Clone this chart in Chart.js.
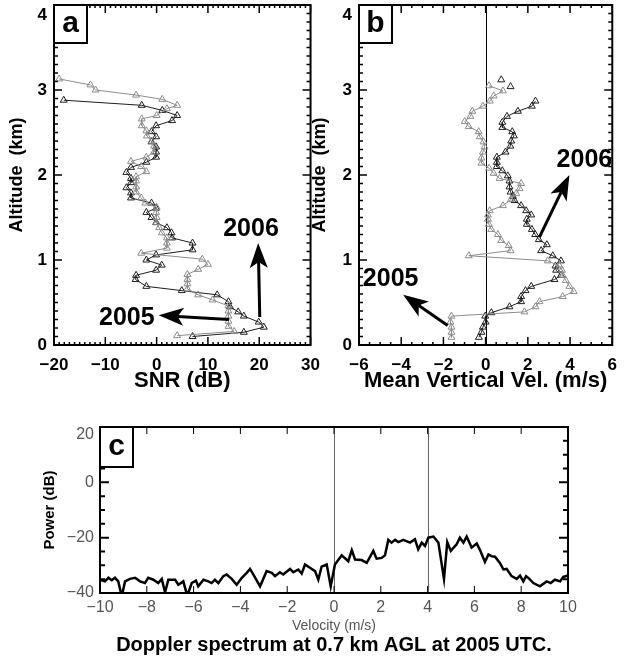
<!DOCTYPE html>
<html>
<head>
<meta charset="utf-8">
<script src="https://cdn.jsdelivr.net/npm/chart.js@4.4.0/dist/chart.umd.min.js"></script>
<style>
  body { margin: 0; background: #fff; width: 627px; height: 659px; overflow: hidden; position: relative; }
  canvas { position: absolute; }
  #chartA { left: 0; top: -20px; }
  #chartB { left: 300px; top: -20px; }
  #chartC { left: 0; top: 400px; }
</style>
</head>
<body>
<canvas id="chartA" width="330" height="420"></canvas>
<canvas id="chartB" width="327" height="420"></canvas>
<canvas id="chartC" width="627" height="259"></canvas>
<script>
// panel a: SNR profiles (dB) against altitude (km)
const alt2006a = [2.88, 2.82, 2.76, 2.70, 2.64, 2.58, 2.51, 2.45, 2.39, 2.33, 2.27, 2.21, 2.15, 2.09, 2.03, 1.96, 1.91, 1.85, 1.79, 1.73, 1.67, 1.61, 1.56, 1.50, 1.44, 1.38, 1.32, 1.26, 1.20, 1.12, 1.06, 1.00, 0.94, 0.88, 0.82, 0.77, 0.69, 0.64, 0.59, 0.51, 0.45, 0.39, 0.34, 0.27, 0.21, 0.15, 0.10];
const snr2006 = [-18.1, -2.9, 1.1, 4.0, 3.0, -0.1, -1.0, -0.1, -1.0, -0.1, -0.1, -0.1, -2.0, -5.0, -5.9, -5.0, -5.0, -5.9, -5.0, -5.0, -1.0, -0.1, -2.0, -1.0, -0.1, 2.0, 2.9, 3.0, 7.0, 7.0, -0.1, -2.0, 1.0, -0.1, -4.0, -4.1, -2.0, 4.9, 11.8, 14.0, 14.3, 15.9, 17.0, 19.9, 20.9, 17.0, 7.0];
const alt2005a = [3.13, 3.06, 3.00, 2.94, 2.89, 2.82, 2.78, 2.70, 2.66, 2.58, 2.52, 2.46, 2.40, 2.34, 2.27, 2.21, 2.16, 2.10, 2.04, 1.98, 1.93, 1.86, 1.80, 1.73, 1.67, 1.62, 1.56, 1.50, 1.44, 1.38, 1.32, 1.26, 1.20, 1.14, 1.08, 1.01, 0.95, 0.89, 0.83, 0.77, 0.72, 0.66, 0.59, 0.53, 0.46, 0.40, 0.34, 0.28, 0.22, 0.16, 0.11];
const snr2005 = [-19.0, -12.9, -11.9, -4.0, 1.1, 4.0, 2.0, 0.0, -2.9, -2.9, -2.0, -1.9, -1.0, -0.5, -0.5, -2.0, -5.0, -3.0, -2.0, -4.0, -4.0, -4.0, -4.0, -3.0, -2.2, 0.0, -0.1, 0.0, 0.0, 0.5, 1.0, 2.0, 2.0, 2.0, -3.0, 8.9, 10.0, 8.1, 6.0, 6.0, 6.0, 6.0, 8.1, 10.9, 14.0, 14.0, 14.0, 14.0, 14.0, 15.1, 4.0];

// panel b: mean vertical velocity (m/s) against altitude (km)
const alt2006b = [2.87, 2.81, 2.75, 2.69, 2.62, 2.56, 2.51, 2.46, 2.40, 2.34, 2.27, 2.21, 2.15, 2.10, 2.05, 1.99, 1.93, 1.86, 1.80, 1.75, 1.70, 1.64, 1.58, 1.53, 1.48, 1.42, 1.36, 1.30, 1.24, 1.18, 1.11, 1.05, 0.99, 0.93, 0.88, 0.82, 0.77, 0.69, 0.64, 0.57, 0.51, 0.45, 0.38, 0.34, 0.27, 0.21, 0.15, 0.09];
const vel2006 = [2.36, 2.19, 1.53, 1.01, 0.79, 0.79, 1.26, 1.34, 1.21, 1.17, 0.94, 0.53, 0.53, 0.53, 0.79, 1.05, 1.13, 1.13, 1.18, 1.29, 1.37, 1.68, 1.92, 2.16, 1.95, 1.95, 2.19, 2.35, 2.52, 2.90, 2.63, 3.18, 3.57, 3.31, 3.34, 3.57, 3.26, 2.16, 1.89, 1.68, 1.68, 1.13, 0.27, -0.02, 0.0, -0.13, -0.2, -0.32];
const altTop2006b = [3.12, 3.04];
const velTop2006 = [0.74, 1.18];
const alt2005b = [3.05, 2.99, 2.93, 2.87, 2.81, 2.75, 2.69, 2.63, 2.57, 2.51, 2.45, 2.39, 2.33, 2.27, 2.20, 2.14, 2.08, 2.02, 1.96, 1.90, 1.84, 1.78, 1.71, 1.64, 1.58, 1.53, 1.48, 1.42, 1.36, 1.30, 1.23, 1.17, 1.11, 1.05, 0.99, 0.93, 0.88, 0.82, 0.76, 0.69, 0.63, 0.57, 0.51, 0.45, 0.39, 0.34, 0.27, 0.21, 0.15, 0.09];
const vel2005 = [0.16, 0.82, 0.38, 0.2, -0.13, -0.63, -0.72, -0.99, -0.80, -0.33, -0.28, -0.1, -0.05, -0.13, -0.2, -0.2, 0.16, 0.38, 0.66, 1.68, 1.61, 1.45, 1.2, 0.82, 0.19, 0.11, 0.11, 0.15, 0.27, 0.58, 0.74, 1.09, 1.18, -0.80, 2.94, 3.5, 3.62, 3.65, 3.8, 3.97, 4.17, 3.65, 2.55, 2.36, 1.84, -1.62, -1.67, -1.62, -1.62, -1.62];

// panel c: Doppler spectrum
const specVel = [-10.00, -9.79, -9.64, -9.50, -9.36, -9.22, -9.07, -8.93, -8.72, -8.50,
  -8.29, -8.08, -7.94, -7.72, -7.51, -7.36, -7.22, -7.08, -6.79, -6.65,
  -6.44, -6.27, -6.08, -5.90, -5.80, -5.58, -5.37, -5.23, -5.09, -4.94,
  -4.73, -4.59, -4.37, -4.16, -3.94, -3.73, -3.59, -3.45, -3.16, -2.88,
  -2.66, -2.52, -2.31, -2.17, -1.88, -1.74, -1.53, -1.38, -1.24, -1.03,
  -0.81, -0.67, -0.53, -0.31, -0.14, 0.04, 0.33, 0.61, 0.76, 0.90,
  1.18, 1.40, 1.68, 1.82, 2.04, 2.18, 2.32, 2.46, 2.61, 2.75,
  2.96, 3.25, 3.46, 3.60, 3.75, 3.89, 4.03, 4.25, 4.46, 4.70,
  4.84, 4.99, 5.24, 5.38, 5.53, 5.67, 5.88, 6.10, 6.24, 6.45,
  6.60, 6.74, 6.88, 7.09, 7.24, 7.38, 7.59, 7.81, 7.95, 8.09,
  8.21, 8.35, 8.52, 8.80, 9.09, 9.26, 9.44, 9.66, 9.80, 10.00];
const specPower = [-35.2, -35.8, -34.5, -35.4, -34.5, -35.8, -41.2, -35.8, -34.9, -34.5,
  -35.8, -36.4, -34.5, -35.2, -36.4, -34.9, -39.8, -35.2, -35.2, -37.0,
  -35.8, -41.0, -36.4, -35.5, -37.6, -35.2, -35.8, -36.4, -35.2, -36.4,
  -33.9, -33.3, -34.9, -37.0, -34.5, -32.7, -31.3, -33.3, -37.6, -32.1,
  -32.7, -33.9, -32.5, -33.3, -31.3, -32.5, -31.5, -33.0, -29.7, -30.9,
  -32.1, -35.2, -30.5, -29.7, -37.6, -29.7, -26.4, -28.5, -24.5, -27.9,
  -28.1, -29.1, -24.8, -27.6, -27.3, -26.4, -20.8, -21.8, -20.8, -21.6,
  -20.8, -21.8, -20.6, -24.2, -21.8, -23.0, -20.0, -19.6, -21.8, -34.9,
  -21.6, -24.8, -22.4, -20.0, -21.8, -19.6, -23.6, -22.1, -24.5, -28.8,
  -26.1, -26.7, -26.9, -29.1, -31.5, -31.3, -33.9, -34.9, -33.7, -35.8,
  -33.9, -34.9, -36.4, -37.6, -35.8, -36.4, -35.2, -35.8, -34.2, -33.7];

const FONT = '"Liberation Sans", Arial, Helvetica, sans-serif';
const gray = '#8c8c8c';
const black = '#1e1e1e';

function minusSign(v) {
  return v < 0 ? '\u2212' + Math.abs(v) : String(v);
}

function toPoints(xs, ys) {
  return xs.map((v, i) => ({ x: v, y: ys[i] }));
}

function profile(xs, ys, color, line) {
  return {
    data: toPoints(xs, ys),
    showLine: line,
    borderColor: color,
    borderWidth: 1,
    pointStyle: 'triangle',
    pointRadius: 4,
    pointBorderWidth: 1,
    pointBorderColor: color,
    pointBackgroundColor: 'rgba(0,0,0,0)'
  };
}

function drawArrow(ctx, x0, y0, x1, y1) {
  const ang = Math.atan2(y1 - y0, x1 - x0);
  const c = Math.cos(ang), s = Math.sin(ang);
  const len = 25, half = 9, notch = 6;
  const bx = x1 - c * len, by = y1 - s * len;
  const nx = x1 - c * (len - notch), ny = y1 - s * (len - notch);
  ctx.lineWidth = 3;
  ctx.beginPath();
  ctx.moveTo(x0, y0);
  ctx.lineTo(nx, ny);
  ctx.stroke();
  ctx.beginPath();
  ctx.moveTo(x1, y1);
  ctx.lineTo(bx - s * half, by + c * half);
  ctx.lineTo(nx, ny);
  ctx.lineTo(bx + s * half, by - c * half);
  ctx.closePath();
  ctx.fill();
}

function tickList(scale, minor, major) {
  const out = [];
  const n = Math.round((scale.max - scale.min) / minor);
  for (let i = 0; i <= n; i++) {
    const v = scale.min + i * minor;
    const isMajor = Math.abs(v / major - Math.round(v / major)) < 1e-6;
    out.push({ px: scale.getPixelForValue(v), major: isMajor });
  }
  return out;
}

// IDL style frame: inward ticks on all four sides, reference lines, tag, arrows
const idlFrame = {
  id: 'idlFrame',
  beforeDatasetsDraw(chart, args, o) {
    const { ctx, chartArea: a, scales: { x } } = chart;
    ctx.save();
    ctx.strokeStyle = o.refColor || '#000';
    ctx.lineWidth = 1;
    (o.refLines || []).forEach(v => {
      const px = Math.round(x.getPixelForValue(v)) + 0.5;
      ctx.beginPath();
      ctx.moveTo(px, a.top);
      ctx.lineTo(px, a.bottom);
      ctx.stroke();
    });
    ctx.restore();
  },
  afterDatasetsDraw(chart, args, o) {
    const { ctx, chartArea: a, scales: { x, y } } = chart;
    ctx.save();
    ctx.strokeStyle = '#000';
    ctx.fillStyle = '#000';

    ctx.lineWidth = o.xTickWidth;
    tickList(x, o.xMinor, o.xMajor).forEach(t => {
      const len = t.major ? o.xMajorLen : o.xMinorLen;
      ctx.beginPath();
      ctx.moveTo(t.px, a.bottom); ctx.lineTo(t.px, a.bottom - len);
      ctx.moveTo(t.px, a.top); ctx.lineTo(t.px, a.top + len);
      ctx.stroke();
    });
    ctx.lineWidth = o.yTickWidth;
    tickList(y, o.yMinor, o.yMajor).forEach(t => {
      const len = t.major ? o.yMajorLen : o.yMinorLen;
      ctx.beginPath();
      ctx.moveTo(a.left, t.px); ctx.lineTo(a.left + len, t.px);
      ctx.moveTo(a.right, t.px); ctx.lineTo(a.right - len, t.px);
      ctx.stroke();
    });

    ctx.lineWidth = 2;
    ctx.strokeRect(a.left, a.top, a.width, a.height);

    // panel letter
    const tg = o.tag;
    ctx.fillStyle = '#fff';
    ctx.fillRect(a.left, a.top, tg.w, tg.h);
    ctx.strokeRect(a.left, a.top, tg.w, tg.h);
    ctx.fillStyle = '#000';
    ctx.font = 'bold 30px ' + FONT;
    ctx.textAlign = 'center';
    ctx.textBaseline = 'middle';
    ctx.fillText(tg.text, a.left + tg.w / 2, a.top + tg.h / 2);

    // top tick label, pushed inside the page like the original
    const tl = o.topLabel;
    ctx.font = tl.font;
    ctx.fillStyle = tl.color;
    ctx.textAlign = 'right';
    ctx.fillText(tl.text, a.left - tl.pad, a.top + tl.dy);

    // arrows and their labels
    ctx.fillStyle = '#000';
    ctx.strokeStyle = '#000';
    (o.arrows || []).forEach(ar => {
      drawArrow(ctx, x.getPixelForValue(ar.from[0]), y.getPixelForValue(ar.from[1]),
        x.getPixelForValue(ar.to[0]), y.getPixelForValue(ar.to[1]));
      ctx.font = 'bold 25px ' + FONT;
      ctx.textAlign = 'center';
      ctx.fillText(ar.text, x.getPixelForValue(ar.at[0]), y.getPixelForValue(ar.at[1]));
    });
    ctx.restore();
  }
};

function xAxis(min, max, step, title, height) {
  return {
    type: 'linear', min: min, max: max,
    grid: { display: false, drawTicks: false },
    border: { display: false },
    ticks: { stepSize: step, padding: 10, color: '#000', maxRotation: 0, autoSkip: false,
      font: { family: FONT, size: 17, weight: 'bold' }, callback: v => minusSign(v) },
    title: { display: true, text: title, color: '#000',
      font: { family: FONT, size: 22, weight: 'bold', lineHeight: 1 },
      padding: { top: 0, bottom: 8 } },
    afterFit: s => { s.height = height; }
  };
}

function altAxis(width, titlePad) {
  return {
    type: 'linear', min: 0, max: 4,
    grid: { display: false, drawTicks: false },
    border: { display: false },
    ticks: { stepSize: 1, padding: 7, color: '#000', autoSkip: false,
      font: { family: FONT, size: 17, weight: 'bold' }, callback: v => (v === 4 ? '' : minusSign(v)) },
    title: { display: true, text: 'Altitude  (km)', color: '#000',
      font: { family: FONT, size: 18, weight: 'bold', lineHeight: 1 },
      padding: { top: titlePad, bottom: 0 } },
    afterFit: s => { s.width = width; }
  };
}

const profileFrame = {
  xTickWidth: 1.5, yTickWidth: 1.5,
  yMinor: 0.1, yMajor: 1, yMajorLen: 8, yMinorLen: 4,
  xMajorLen: 8, xMinorLen: 3,
  topLabel: { text: '4', dy: 10, pad: 7, font: 'bold 17px ' + FONT, color: '#000' }
};

new Chart(document.getElementById('chartA'), {
  type: 'scatter',
  data: {
    datasets: [
      profile(snr2005, alt2005a, gray, true),
      profile(snr2006, alt2006a, black, true)
    ]
  },
  options: {
    responsive: false,
    animation: false,
    devicePixelRatio: 1,
    layout: { padding: { left: 0, top: 25, right: 18, bottom: 0 } },
    scales: {
      x: xAxis(-20, 30, 10, 'SNR (dB)', 55),
      y: altAxis(54, 8)
    },
    plugins: {
      legend: { display: false },
      tooltip: { enabled: false },
      idlFrame: Object.assign({}, profileFrame, {
        xMinor: 1, xMajor: 10,
        tag: { text: 'a', w: 33, h: 38 },
        arrows: [
          { from: [20.1, 0.33], to: [19.8, 1.20], text: '2006', at: [18.4, 1.36] },
          { from: [14.1, 0.30], to: [0.4, 0.35], text: '2005', at: [-5.8, 0.32] }
        ]
      })
    }
  },
  plugins: [idlFrame]
});

new Chart(document.getElementById('chartB'), {
  type: 'scatter',
  data: {
    datasets: [
      profile(vel2005, alt2005b, gray, true),
      profile(vel2006, alt2006b, black, true),
      profile(velTop2006, altTop2006b, black, false)
    ]
  },
  options: {
    responsive: false,
    animation: false,
    devicePixelRatio: 1,
    layout: { padding: { left: 0, top: 25, right: 14, bottom: 0 } },
    scales: {
      x: xAxis(-6, 6, 2, 'Mean Vertical Vel. (m/s)', 55),
      y: altAxis(59, 11)
    },
    plugins: {
      legend: { display: false },
      tooltip: { enabled: false },
      idlFrame: Object.assign({}, profileFrame, {
        xMinor: 0.5, xMajor: 2,
        refLines: [0], refColor: '#000',
        tag: { text: 'b', w: 33, h: 38 },
        arrows: [
          { from: [-1.80, 0.23], to: [-3.91, 0.59], text: '2005', at: [-4.5, 0.78] },
          { from: [2.55, 1.27], to: [3.97, 2.0], text: '2006', at: [4.68, 2.18] }
        ]
      })
    }
  },
  plugins: [idlFrame]
});

new Chart(document.getElementById('chartC'), {
  type: 'scatter',
  data: {
    datasets: [{
      data: toPoints(specVel, specPower),
      showLine: true,
      borderColor: '#000',
      borderWidth: 2.5,
      pointRadius: 0,
      tension: 0
    }]
  },
  options: {
    responsive: false,
    animation: false,
    devicePixelRatio: 1,
    layout: { padding: { left: 0, top: 27, right: 59, bottom: 0 } },
    scales: {
      x: {
        type: 'linear', min: -10, max: 10,
        grid: { display: false, drawTicks: false },
        border: { display: false },
        ticks: { stepSize: 2, padding: 5, color: '#555', maxRotation: 0, autoSkip: false,
          font: { family: FONT, size: 16 }, callback: v => minusSign(v) },
        title: { display: true, text: 'Velocity (m/s)', color: '#555',
          font: { family: FONT, size: 14, lineHeight: 1 }, padding: { top: 0, bottom: 0 } },
        afterFit: s => { s.height = 40; }
      },
      y: {
        type: 'linear', min: -40, max: 20,
        grid: { display: false, drawTicks: false },
        border: { display: false },
        ticks: { stepSize: 20, padding: 6, color: '#555', autoSkip: false,
          font: { family: FONT, size: 16 }, callback: v => (v === 20 ? '' : minusSign(v)) },
        title: { display: true, text: 'Power (dB)', color: '#000',
          font: { family: FONT, size: 15, weight: 'bold', lineHeight: 1 },
          padding: { top: 42, bottom: 0 } },
        afterFit: s => { s.width = 100; }
      }
    },
    plugins: {
      legend: { display: false },
      tooltip: { enabled: false },
      title: {
        display: true, position: 'bottom', fullSize: false,
        text: 'Doppler spectrum at 0.7 km AGL at 2005 UTC.', color: '#000',
        font: { family: FONT, size: 20, weight: 'bold', lineHeight: 1.2 },
        padding: { top: 0, bottom: 2 }
      },
      idlFrame: {
        xTickWidth: 1, yTickWidth: 2,
        xMinor: 2, xMajor: 2, xMajorLen: 7, xMinorLen: 7,
        yMinor: 5, yMajor: 20, yMajorLen: 9, yMinorLen: 5,
        refLines: [0, 4], refColor: '#666',
        tag: { text: 'c', w: 33, h: 40 },
        topLabel: { text: '20', dy: 8, pad: 6, font: '16px ' + FONT, color: '#555' }
      }
    }
  },
  plugins: [idlFrame]
});
</script>
</body>
</html>
